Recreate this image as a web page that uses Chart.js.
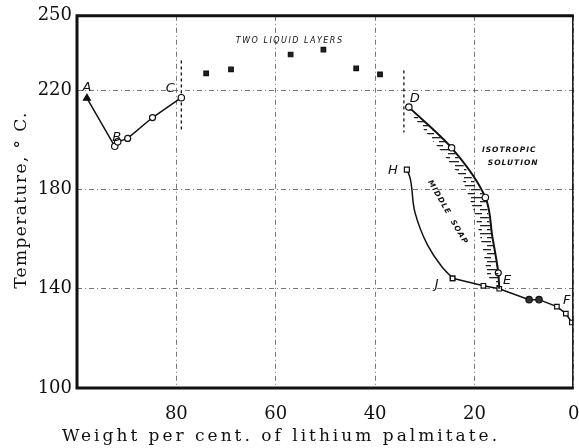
<!DOCTYPE html>
<html>
<head>
<meta charset="utf-8">
<script src="https://cdn.jsdelivr.net/npm/chart.js@4/dist/chart.umd.min.js"></script>
<style>
body { margin: 0; background: #fff; }
</style>
</head>
<body>
<canvas id="myChart" width="579" height="448"></canvas>
<script>
// x = weight per cent of lithium palmitate, y = temperature in C
const abcWeight = [98, 92.4, 91.8, 89.8, 84.8, 79]
const abcTemp = [216.8, 197.4, 199.2, 200.6, 209, 217]

const layersWeight = [74, 69, 57, 50.4, 43.8, 39]
const layersTemp = [226.8, 228.4, 234.4, 236.4, 228.8, 226.4]

const deWeight = [33.2, 24.6, 17.8, 16.4, 15.2, 15]
const deTemp = [213.2, 196.8, 176.8, 161, 146.4, 140]

// left edge of the hatched band, D down to E
const hatchWeight = [33, 27.4, 22.4, 20, 18.4, 17.4, 15]
const hatchTemp = [211, 197.2, 184, 170.8, 157.2, 145.2, 140]

const hjWeight = [33.6, 33, 32, 29.4, 26.6, 24.4]
const hjTemp = [188, 185, 171, 157.5, 149, 144.2]

const jfWeight = [24.4, 18.2, 15, 9, 7, 3.4, 1.6, 0.4]
const jfTemp = [144.2, 141.2, 140, 135.6, 135.6, 132.8, 130, 126.4]

// dashed boundaries at C and D
const cDashWeight = [79, 79]
const cDashTemp = [232, 204]
const dDashWeight = [34.2, 34.2]
const dDashTemp = [228, 203]

const xTicks = [0, 20, 40, 60, 80]
const yTicks = [100, 140, 180, 220, 250]

const noteText = ['A', 'B', 'C', 'D', 'H', 'J', 'E', 'F']
const noteWeight = [98, 92, 81.2, 32, 36.4, 27.6, 13.4, 1.4]
const noteTemp = [221, 200.8, 220.8, 216.8, 187.6, 141.6, 143.2, 135.2]

const xTitle = 'Weight per cent. of lithium palmitate.'
const yTitle = 'Temperature, \u00b0 C.'

function toPoints(xs, ys) {
    return xs.map(function (x, i) { return { x: x, y: ys[i] } })
}

const myChart = document.getElementById('myChart')
const mainCtx = myChart.getContext('2d')

// short horizontal dashes, every other row shifted
function hatchPattern() {
    const c = document.createElement('canvas')
    c.width = 16
    c.height = 8
    const g = c.getContext('2d')
    g.fillStyle = '#222'
    g.fillRect(0, 1, 11, 1.3)
    g.fillRect(7, 5, 11, 1.3)
    g.fillRect(-9, 5, 11, 1.3)
    return mainCtx.createPattern(c, 'repeat')
}

// frame round the plot
const framePlugin = {
    id: 'frame',
    afterDatasetsDraw(chart) {
        const a = chart.chartArea
        const ctx = chart.ctx
        ctx.save()
        ctx.strokeStyle = '#111'
        ctx.lineWidth = 3
        ctx.beginPath()
        ctx.moveTo(a.right, a.top)
        ctx.lineTo(a.left, a.top)
        ctx.lineTo(a.left, a.bottom)
        ctx.lineTo(a.right, a.bottom)
        ctx.stroke()
        ctx.lineWidth = 1.5
        ctx.beginPath()
        ctx.moveTo(a.right - 1, a.top)
        ctx.lineTo(a.right - 1, a.bottom)
        ctx.stroke()
        ctx.restore()
    }
}

// letters and region names
const notesPlugin = {
    id: 'notes',
    afterDatasetsDraw(chart) {
        const ctx = chart.ctx
        const xs = chart.scales.x
        const ys = chart.scales.y
        ctx.save()
        ctx.fillStyle = '#111'
        ctx.textAlign = 'center'
        ctx.textBaseline = 'middle'
        ctx.font = 'italic 13px "DejaVu Sans"'
        noteText.forEach(function (t, i) {
            ctx.fillText(t, xs.getPixelForValue(noteWeight[i]), ys.getPixelForValue(noteTemp[i]))
        })

        ctx.font = 'italic 8px "DejaVu Sans"'
        ctx.letterSpacing = '1.5px'
        ctx.fillText('TWO LIQUID LAYERS', xs.getPixelForValue(57.2), ys.getPixelForValue(240))

        ctx.font = 'italic bold 7.5px "DejaVu Sans"'
        ctx.letterSpacing = '1px'
        ctx.fillText('ISOTROPIC', xs.getPixelForValue(13), ys.getPixelForValue(196))
        ctx.fillText('SOLUTION', xs.getPixelForValue(12.2), ys.getPixelForValue(190.8))

        ctx.translate(xs.getPixelForValue(25.4), ys.getPixelForValue(170.8))
        ctx.rotate(Math.PI / 3)
        ctx.fillText('MIDDLE  SOAP', 0, 0)
        ctx.restore()
    }
}

const titlePlugin = {
    id: 'axisTitles',
    afterDraw(chart) {
        const ctx = chart.ctx
        ctx.save()
        ctx.fillStyle = '#111'
        ctx.textAlign = 'center'
        ctx.textBaseline = 'middle'
        ctx.font = '17px "DejaVu Serif"'
        ctx.letterSpacing = '3px'
        ctx.fillText(xTitle, 281, 437)
        ctx.translate(22, 200)
        ctx.rotate(-Math.PI / 2)
        ctx.font = '17px "DejaVu Serif"'
        ctx.letterSpacing = '1.4px'
        ctx.fillText(yTitle, 0, 0)
        ctx.restore()
    }
}

const lineDefaults = {
    borderColor: '#111',
    backgroundColor: '#111',
    pointBorderColor: '#111',
    pointBackgroundColor: '#fff',
    borderWidth: 1.5,
    pointBorderWidth: 1.2,
    showLine: true,
    fill: false
}

const chart = new Chart(myChart, {
    type: 'scatter',
    data: {
        datasets: [
            Object.assign({}, lineDefaults, {
                label: 'A-B-C',
                data: toPoints(abcWeight, abcTemp),
                tension: 0,
                pointStyle: ['triangle', 'circle', 'circle', 'circle', 'circle', 'circle'],
                pointBackgroundColor: ['#111', '#fff', '#fff', '#fff', '#fff', '#fff'],
                pointRadius: [4, 3.2, 3.2, 3, 3, 3.2]
            }),
            Object.assign({}, lineDefaults, {
                label: 'Two liquid layers',
                data: toPoints(layersWeight, layersTemp),
                showLine: false,
                pointStyle: 'rect',
                pointBackgroundColor: '#222',
                pointRadius: 3.2
            }),
            {
                label: 'hatch',
                data: toPoints(hatchWeight, hatchTemp).concat(toPoints(deWeight, deTemp).reverse()),
                showLine: true,
                borderWidth: 0,
                borderColor: 'rgba(0,0,0,0)',
                pointRadius: 0,
                tension: 0,
                fill: 'shape',
                backgroundColor: hatchPattern()
            },
            Object.assign({}, lineDefaults, {
                label: 'D-E',
                data: toPoints(deWeight, deTemp),
                indexAxis: 'y',
                cubicInterpolationMode: 'monotone',
                borderWidth: 2,
                pointStyle: 'circle',
                pointRadius: [3.2, 3.2, 3.2, 0, 3, 0]
            }),
            Object.assign({}, lineDefaults, {
                label: 'H-J',
                data: toPoints(hjWeight, hjTemp),
                indexAxis: 'y',
                cubicInterpolationMode: 'monotone',
                pointStyle: 'rect',
                pointRadius: [3.5, 0, 0, 0, 0, 3.2]
            }),
            Object.assign({}, lineDefaults, {
                label: 'J-F',
                data: toPoints(jfWeight, jfTemp),
                tension: 0,
                pointStyle: ['rect', 'rect', 'rect', 'circle', 'circle', 'rect', 'rect', 'rect'],
                pointBackgroundColor: ['#fff', '#fff', '#fff', '#333', '#333', '#fff', '#fff', '#fff'],
                pointRadius: 3.2
            }),
            Object.assign({}, lineDefaults, {
                label: 'C boundary',
                data: toPoints(cDashWeight, cDashTemp),
                borderDash: [3, 3],
                borderWidth: 1.3,
                pointRadius: 0
            }),
            Object.assign({}, lineDefaults, {
                label: 'D boundary',
                data: toPoints(dDashWeight, dDashTemp),
                borderDash: [3, 3],
                borderWidth: 1.3,
                pointRadius: 0
            })
        ]
    },
    options: {
        responsive: false,
        animation: false,
        devicePixelRatio: 1,
        layout: { padding: { top: 15, right: 1, left: 0, bottom: 0 } },
        plugins: {
            legend: { display: false },
            tooltip: { enabled: false }
        },
        scales: {
            x: {
                type: 'linear',
                reverse: true,
                min: 0,
                max: 100,
                afterBuildTicks: function (scale) {
                    scale.ticks = xTicks.map(function (v) { return { value: v } })
                },
                afterFit: function (scale) { scale.height = 60 },
                grid: { color: '#555', lineWidth: 0.8, drawTicks: false },
                border: { display: false, dash: [5, 3, 1, 3] },
                ticks: {
                    padding: 16,
                    color: '#111',
                    font: { family: 'DejaVu Serif', size: 18 },
                    maxRotation: 0
                }
            },
            y: {
                type: 'linear',
                min: 100,
                max: 250,
                afterBuildTicks: function (scale) {
                    scale.ticks = yTicks.map(function (v) { return { value: v } })
                },
                afterFit: function (scale) { scale.width = 77 },
                grid: { color: '#555', lineWidth: 0.8, drawTicks: false },
                border: { display: false, dash: [5, 3, 1, 3] },
                ticks: {
                    padding: 5,
                    color: '#111',
                    font: { family: 'DejaVu Serif', size: 18 }
                }
            }
        }
    },
    plugins: [framePlugin, notesPlugin, titlePlugin]
})
</script>
</body>
</html>
